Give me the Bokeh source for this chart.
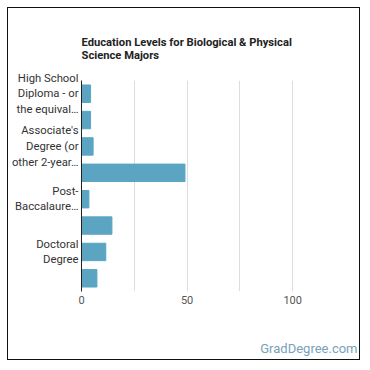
from bokeh.plotting import figure
from bokeh.models import Range1d, FixedTicker, Title
from bokeh.embed import file_html
from bokeh.resources import INLINE

# Share of workers (%) by highest education level, top to bottom
categories = [
    "High School Diploma - or the equivalent",
    "Some College Courses",
    "Associate's Degree (or other 2-year degree)",
    "Bachelor's Degree",
    "Post-Baccalaureate Certificate",
    "Master's Degree",
    "Doctoral Degree",
    "Post-Doctoral Training",
]
shares = [4.3, 4.3, 5.5, 49.0, 3.5, 14.4, 11.5, 7.3]

# Only every other category gets a (wrapped, truncated) axis label
y_label_text = {
    0: "High School\nDiploma - or\nthe equival…",
    2: "Associate's\nDegree (or\nother 2-year…",
    4: "Post-\nBaccalaure…",
    6: "Doctoral\nDegree",
}
x_ticks = [0, 25, 50, 75, 100]
x_tick_text = {0: "0", 25: "", 50: "50", 75: "", 100: "100"}

title_text = "Education Levels for Biological & Physical\nScience Majors"
brand_text = "GradDegree.com"

FONT = "Roboto"
BAR = "#5ba5c3"

ys = [i + 0.5 for i in range(len(categories))]

p = figure(
    width=353, height=353,
    x_range=Range1d(0, 125), y_range=Range1d(len(categories), 0),
    output_backend="svg", toolbar_location=None,
    min_border_left=71, min_border_right=16,
    min_border_top=72, min_border_bottom=70,
)
# thin dark frame around the whole chart
p.styles = {"margin": "7px 0 0 7px", "border": "1px solid #111111",
            "box-sizing": "border-box"}
p.outline_line_color = None
p.background_fill_color = "white"
p.border_fill_color = "white"

p.hbar(y=ys, left=0, right=shares, height=0.66,
       fill_color=BAR, line_color=BAR)

# x axis: numbers only, no axis line
xa = p.xaxis[0]
xa.ticker = FixedTicker(ticks=x_ticks)
xa.major_label_overrides = x_tick_text
xa.axis_line_color = None
xa.major_tick_line_color = None
xa.minor_tick_line_color = None
xa.major_tick_out = 0
xa.major_tick_in = 0
xa.major_label_text_font = FONT
xa.major_label_text_font_size = "11px"
xa.major_label_text_color = "#555555"
xa.major_label_standoff = 4

# y axis: category names on every second bar
ya = p.yaxis[0]
ya.ticker = FixedTicker(ticks=[ys[i] for i in y_label_text])
ya.major_label_overrides = {ys[i]: t for i, t in y_label_text.items()}
ya.axis_line_color = "#222222"
ya.major_tick_line_color = None
ya.minor_tick_line_color = None
ya.major_tick_out = 0
ya.major_tick_in = 0
ya.major_label_text_font = FONT
ya.major_label_text_font_size = "11.3px"
ya.major_label_text_color = "#333333"
ya.major_label_standoff = 3

p.xgrid.ticker = FixedTicker(ticks=x_ticks)
p.xgrid.grid_line_color = "#dddddd"
p.ygrid.grid_line_color = None

p.add_layout(Title(
    text=title_text, align="left", standoff=37,
    text_font=FONT, text_font_size="11.2px", text_font_style="bold",
    text_color="#222222", text_line_height=1.0,
), "above")
# two blank lines push the site name down to the bottom corner
p.add_layout(Title(
    text="\n\n" + brand_text, align="right", offset=-12, standoff=4,
    text_font=FONT, text_font_size="13px", text_font_style="normal",
    text_color="#77a2bb", text_line_height=1.0,
), "below")

open("out.html", "w").write(file_html(p, INLINE))
